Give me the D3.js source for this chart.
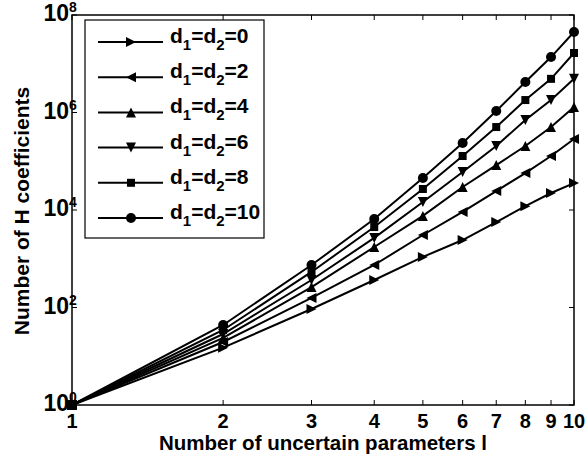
<!DOCTYPE html>
<html>
<head>
<meta charset="utf-8">
<script src="https://cdn.jsdelivr.net/npm/d3@7"></script>
<style>
  body { margin: 0; background: #fff; }
  text { font-family: "Liberation Sans", Arial, sans-serif; font-weight: bold; fill: #000; }
</style>
</head>
<body>
<div id="chart"></div>
<script>
// data
var params = [1, 2, 3, 4, 5, 6, 7, 8, 9, 10];
var d0  = [1, 15, 93, 366, 1090, 2420, 5650, 12000, 22300, 35700];
var d2  = [1, 19.6, 157, 745, 3070, 9110, 24500, 57300, 128000, 287000];
var d4  = [1, 23.7, 263, 1740, 7560, 29600, 83500, 205000, 503000, 1290000];
var d6  = [1, 28.6, 366, 2680, 14600, 60300, 205000, 704000, 1800000, 4900000];
var d8  = [1, 34.6, 536, 4470, 27000, 128000, 503000, 1800000, 4900000, 16600000];
var d10 = [1, 43.8, 745, 6530, 45400, 236000, 1070000, 4230000, 13700000, 44700000];
var seriesNames = ["0", "2", "4", "6", "8", "10"];
var yTicks = [0, 2, 4, 6, 8];

var width = 587, height = 459;
var margin = {left: 72, right: 13, top: 15, bottom: 54};

var svg = d3.select("#chart").append("svg")
    .attr("width", width)
    .attr("height", height);

var x = d3.scaleLog()
    .domain([1, 10])
    .range([margin.left, width - margin.right]);

var y = d3.scaleLog()
    .domain([1, 1e8])
    .range([height - margin.bottom, margin.top]);

var x0 = x.range()[0], x1 = x.range()[1];
var y0 = y.range()[0], y1 = y.range()[1];

// ---- TICKS (inside, on all four sides) ---- //
var tickLen = 5;
params.forEach(function(p) {
  svg.append("line").attr("x1", x(p)).attr("x2", x(p)).attr("y1", y0).attr("y2", y0 - tickLen)
     .attr("stroke", "#000").attr("stroke-width", 1);
  svg.append("line").attr("x1", x(p)).attr("x2", x(p)).attr("y1", y1).attr("y2", y1 + tickLen)
     .attr("stroke", "#000").attr("stroke-width", 1);
  svg.append("text")
     .attr("x", x(p)).attr("y", y0 + 23)
     .attr("text-anchor", "middle")
     .style("font-size", "20px")
     .text(p);
});

yTicks.forEach(function(e) {
  var v = Math.pow(10, e);
  svg.append("line").attr("x1", x0).attr("x2", x0 + tickLen).attr("y1", y(v)).attr("y2", y(v))
     .attr("stroke", "#000").attr("stroke-width", 1);
  svg.append("line").attr("x1", x1).attr("x2", x1 - tickLen).attr("y1", y(v)).attr("y2", y(v))
     .attr("stroke", "#000").attr("stroke-width", 1);
  svg.append("text")
     .attr("x", x0 - 3).attr("y", y(v) + 6)
     .attr("text-anchor", "end")
     .style("font-size", "23px")
     .text("10");
  svg.append("text")
     .attr("x", x0 - 3).attr("y", y(v) - 3)
     .style("font-size", "14px")
     .text(e);
});

// axes box
svg.append("rect")
    .attr("x", x0).attr("y", y1)
    .attr("width", x1 - x0).attr("height", y0 - y1)
    .attr("fill", "none").attr("stroke", "#000").attr("stroke-width", 1.5);

// axis labels
svg.append("text")
    .attr("x", (x0 + x1) / 2).attr("y", 450)
    .attr("text-anchor", "middle")
    .style("font-size", "20.5px")
    .text("Number of uncertain parameters l");

svg.append("text")
    .attr("transform", "translate(29,211) rotate(-90)")
    .attr("text-anchor", "middle")
    .style("font-size", "21px")
    .text("Number of H coefficients");

// ---- DRAW LINES + MARKERS ---- //
var series = [d0, d2, d4, d6, d8, d10];
var markers = ["right", "left", "up", "down", "square", "circle"];

function drawMarker(g, type, cx, cy) {
  var s = 5;
  if (type === "circle") {
    g.append("circle").attr("cx", cx).attr("cy", cy).attr("r", 5).attr("fill", "#000");
  } else if (type === "square") {
    g.append("rect").attr("x", cx - 4).attr("y", cy - 4).attr("width", 8).attr("height", 8).attr("fill", "#000");
  } else {
    var pts;
    if (type === "right") pts = [[cx + s, cy], [cx - s, cy - s], [cx - s, cy + s]];
    if (type === "left")  pts = [[cx - s, cy], [cx + s, cy - s], [cx + s, cy + s]];
    if (type === "up")    pts = [[cx, cy - s], [cx - s, cy + s], [cx + s, cy + s]];
    if (type === "down")  pts = [[cx, cy + s], [cx - s, cy - s], [cx + s, cy - s]];
    g.append("polygon").attr("points", pts.map(function(p) { return p.join(","); }).join(" ")).attr("fill", "#000");
  }
}

var line = d3.line()
    .x(function(d, i) { return x(params[i]); })
    .y(function(d) { return y(d); });

series.forEach(function(vals, k) {
  var g = svg.append("g");
  g.append("path")
    .datum(vals)
    .attr("d", line)
    .attr("fill", "none")
    .attr("stroke", "#000")
    .attr("stroke-width", 2);
  vals.forEach(function(v, i) {
    drawMarker(g, markers[k], x(params[i]), y(v));
  });
});

// ---- LEGEND ---- //
var legend = svg.append("g");
legend.append("rect")
    .attr("x", 85).attr("y", 20)
    .attr("width", 179).attr("height", 218)
    .attr("fill", "#fff").attr("stroke", "#000").attr("stroke-width", 1.2);

seriesNames.forEach(function(name, k) {
  var ly = 42 + k * 35.2;
  legend.append("line")
    .attr("x1", 98).attr("x2", 163).attr("y1", ly).attr("y2", ly)
    .attr("stroke", "#000").attr("stroke-width", 2);
  drawMarker(legend, markers[k], 131, ly);
  var t = legend.append("text")
    .attr("x", 170).attr("y", ly + 1)
    .style("font-size", "21px");
  t.append("tspan").text("d");
  t.append("tspan").attr("dy", 7).style("font-size", "15px").text("1");
  t.append("tspan").attr("dy", -7).text("=d");
  t.append("tspan").attr("dy", 7).style("font-size", "15px").text("2");
  t.append("tspan").attr("dy", -7).text("=" + name);
});
</script>
</body>
</html>
